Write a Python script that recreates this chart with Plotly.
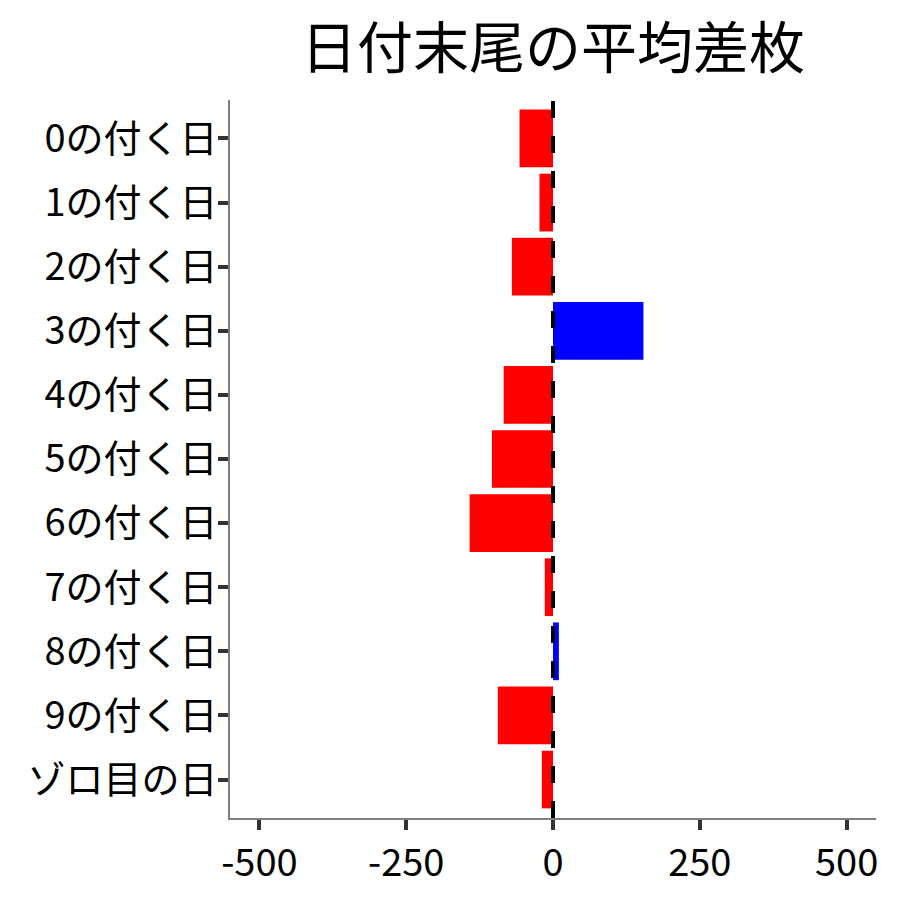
import plotly.graph_objects as go

categories = ["0の付く日", "1の付く日", "2の付く日", "3の付く日", "4の付く日",
              "5の付く日", "6の付く日", "7の付く日", "8の付く日", "9の付く日", "ゾロ目の日"]
values = [-57, -23, -70, 154, -84, -104, -142, -14, 10, -94, -19]
x_ticks = [-500, -250, 0, 250, 500]
x_tick_labels = ["-500", "-250", "0", "250", "500"]
title_text = "日付末尾の平均差枚"

colors = ["#0000FF" if v > 0 else "#FF0000" for v in values]

FONT = "Noto Sans CJK JP"

fig = go.Figure()
fig.add_trace(go.Bar(
    x=values, y=categories, orientation="h",
    marker=dict(color=colors, line=dict(width=0)),
    width=0.9, showlegend=False,
))

fig.add_shape(type="line", xref="x", yref="paper", x0=0, x1=0, y0=0, y1=1,
              line=dict(color="black", width=4, dash="17px,18px"), layer="above")

fig.update_layout(
    width=900, height=900,
    margin=dict(l=222, r=32, t=92, b=90),
    plot_bgcolor="white", paper_bgcolor="white",
    font=dict(family=FONT, color="black"),
    title=dict(text=title_text, x=0.5, xref="paper", xanchor="center",
               y=1 - 40 / 900, yanchor="middle",
               font=dict(family=FONT, size=56, color="black")),
    xaxis=dict(range=[-550, 550], tickvals=x_ticks, ticktext=x_tick_labels,
               showgrid=False, zeroline=False, showline=True, linecolor="#7f7f7f",
               linewidth=1.8, ticks="outside", ticklen=10, tickwidth=4, tickcolor="#333333",
               tickfont=dict(family=FONT, size=38, color="black")),
    yaxis=dict(categoryorder="array", categoryarray=categories,
               range=[10.6, -0.6], showgrid=False, zeroline=False, showline=True,
               linecolor="#7f7f7f", linewidth=1.8, ticks="outside", ticklen=10,
               tickwidth=4, tickcolor="#333333", ticklabelstandoff=-7,
               tickfont=dict(family=FONT, size=38, color="black")),
)

fig.write_html("out.html")
